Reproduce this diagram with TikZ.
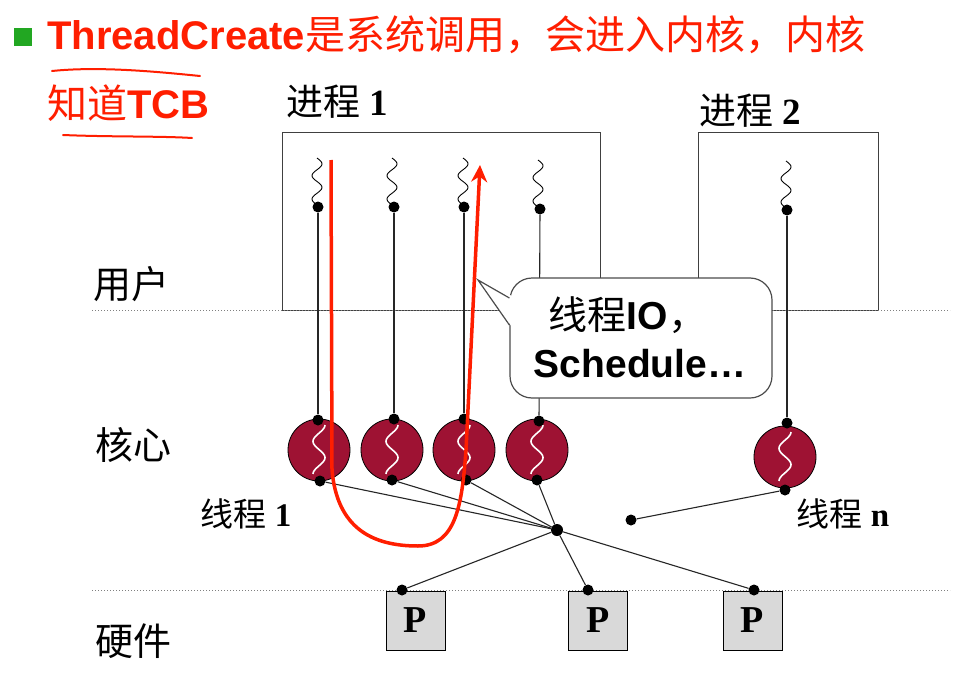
\documentclass[tikz,border=0pt]{standalone}
\usepackage{fontspec}
\setmainfont{Liberation Serif}
\newfontfamily\cjk{Noto Sans CJK SC}
\newfontfamily\arialf{Liberation Sans}
\usetikzlibrary{arrows.meta}
\definecolor{kred}{HTML}{9E1233}
\definecolor{tred}{HTML}{FF1E00}
\definecolor{boxgray}{HTML}{D9D9D9}
\definecolor{bgreen}{HTML}{22A722}
\tikzset{
 dotn/.style={circle, fill=black, inner sep=0pt, minimum size=11pt},
 kthread/.style={circle, draw=black, line width=0.8pt, fill=kred, minimum size=62pt, inner sep=0pt},
 conn/.style={line width=1.1pt, draw=black!85},
 procbox/.style={draw=black!75, line width=1pt, inner sep=0pt},
 pbox/.style={draw=black, line width=1pt, fill=boxgray, minimum width=59pt, minimum height=59pt, inner sep=0pt, font=\fontsize{38}{40}\selectfont\bfseries},
 layer/.style={draw=black!50, dotted, line width=1pt},
 lbl/.style={inner sep=0pt, font=\fontsize{38}{40}\selectfont},
 tlbl/.style={inner sep=0pt, font=\fontsize{33}{35}\selectfont},
 redpen/.style={draw=tred, line width=3.5pt},
 bubble/.style={draw=black!70, line width=1.2pt, fill=white, rounded corners=22pt, minimum width=262pt, minimum height=120pt, inner sep=0pt},
 bubtext/.style={inner sep=0pt, font=\fontsize{39}{42}\selectfont},
}
\begin{document}
\begin{tikzpicture}[x=1pt, y=-1pt]
\useasboundingbox (0,0) rectangle (961,677);
\fill[white] (0,0) rectangle (961,677);

% title
\node[fill=bgreen, minimum size=18pt, inner sep=0pt] (bullet) at (22.5,37.5) {};
\node[anchor=base west, inner sep=0pt, text=tred, font=\fontsize{40}{42}\selectfont] (title1) at (47,50)
  {{\arialf\bfseries ThreadCreate}{\cjk 是系统调用，会进入内核，内核}};
\node[anchor=base west, inner sep=0pt, text=tred, font=\fontsize{40}{42}\selectfont] (title2) at (47,118)
  {{\cjk 知道}{\arialf\bfseries TCB}};
\draw[tred, line width=2pt, line cap=round] (52,71) .. controls (100,66) and (160,72) .. (200,76);
\draw[tred, line width=2pt, line cap=round] (63,135) .. controls (110,137) and (160,136) .. (192,138);

% process boxes
\node[procbox, minimum width=318pt, minimum height=178pt] (proc1) at (441,221) {};
\node[procbox, minimum width=180pt, minimum height=178pt] (proc2) at (788,221) {};
\node[anchor=base west, lbl, font=\fontsize{37}{39}\selectfont] (proc1lbl) at (286,115) {{\cjk 进程}~\textbf{1}};
\node[anchor=base west, lbl, font=\fontsize{37}{39}\selectfont] (proc2lbl) at (699,124) {{\cjk 进程}~\textbf{2}};

% layer lines
\draw[layer] (92,310) -- (950,310);
\draw[layer] (92,590) -- (950,590);

% layer labels
\node[lbl] (user) at (131,284) {\cjk 用户};
\node[lbl] (kern) at (133,445) {\cjk 核心};
\node[lbl] (hw) at (133,641) {\cjk 硬件};
\node[tlbl] (t1lbl) at (246,514) {{\cjk 线程}~\textbf{1}};
\node[tlbl] (tnlbl) at (843,514) {{\cjk 线程}~\textbf{n}};

% user-level squiggles
\foreach \cx/\ty in {317/158, 392/158, 463/158, 538/160, 786/161} {
  \draw[line width=0.9pt] plot[domain=0:1, samples=40, smooth, variable=\t] ({\cx+5*sin(720*\t)}, {\ty+47*\t});
}

% kernel threads
\node[kthread] (k1) at (319,450) {};
\node[kthread] (k2) at (392,450) {};
\node[kthread] (k3) at (464,450) {};
\node[kthread] (k4) at (537,450) {};
\node[kthread] (kn) at (785,457) {};
\foreach \cx/\cy in {319/450, 392/450, 464/450, 537/450, 785/457} {
  \draw[white, line width=1.6pt] plot[domain=0:1, samples=40, smooth, variable=\t] ({\cx+6*cos(540*\t)}, {\cy-25+49*\t});
}

% P boxes
\node[pbox] (p1) at (415.5,620.5) {P};
\node[pbox] (p2) at (598,620.5) {P};
\node[pbox] (p3) at (752.5,620.5) {P};

% dots
\node[dotn] (u1) at (318,207) {};
\node[dotn] (u2) at (394,207) {};
\node[dotn] (u3) at (464,207) {};
\node[dotn] (u4) at (540,209) {};
\node[dotn] (un) at (787,210) {};
\node[dotn] (k1t) at (318,420) {};
\node[dotn] (k2t) at (394,419) {};
\node[dotn] (k3t) at (464,419) {};
\node[dotn] (k4t) at (539,421) {};
\node[dotn] (knt) at (787,423) {};
\node[dotn] (k1b) at (320,481) {};
\node[dotn] (k2b) at (392,480) {};
\node[dotn] (k3b) at (466,480) {};
\node[dotn] (k4b) at (537,480) {};
\node[dotn] (knb) at (785,490) {};
\node[dotn, minimum size=12pt] (j) at (557,530) {};
\node[dotn] (iso) at (631,520) {};
\node[dotn] (p1d) at (402,590) {};
\node[dotn] (p2d) at (588,590) {};
\node[dotn] (p3d) at (754,590) {};

% connectors
\draw[conn] (u1) -- (k1t);
\draw[conn] (u2) -- (k2t);
\draw[conn] (u3) -- (k3t);
\draw[conn] (u4) -- (k4t);
\draw[conn] (un) -- (knt);
\draw[conn] (k1b) -- (j);
\draw[conn] (k2b) -- (j);
\draw[conn] (k3b) -- (j);
\draw[conn] (k4b) -- (j);
\draw[conn] (j) -- (p1d);
\draw[conn] (j) -- (p2d);
\draw[conn] (j) -- (p3d);
\draw[conn] (iso) -- (knb);

% callout
\node[bubble] (co) at (641,338) {};
\coordinate (tip) at (478,280);
\fill[white] (tip) -- (512,296) -- (512,327) -- cycle;
\draw[draw=black!70, line width=1.2pt] (co.west |- 0,298) -- (tip) -- (co.west |- 0,325);
\node[bubtext] (co1) at (628,315) {{\cjk 线程}{\arialf\bfseries IO}{\cjk ，}};
\node[bubtext] (co2) at (640,364) {\arialf\bfseries Schedule…};

% red annotation arrow
\draw[redpen, -{Stealth[length=17pt,width=16pt]}] (331,160) -- (332,470) .. controls (337,528) and (372,546) .. (418,546) .. controls (456,546) and (462,505) .. (466,450) -- (480,165);
\end{tikzpicture}
\end{document}
